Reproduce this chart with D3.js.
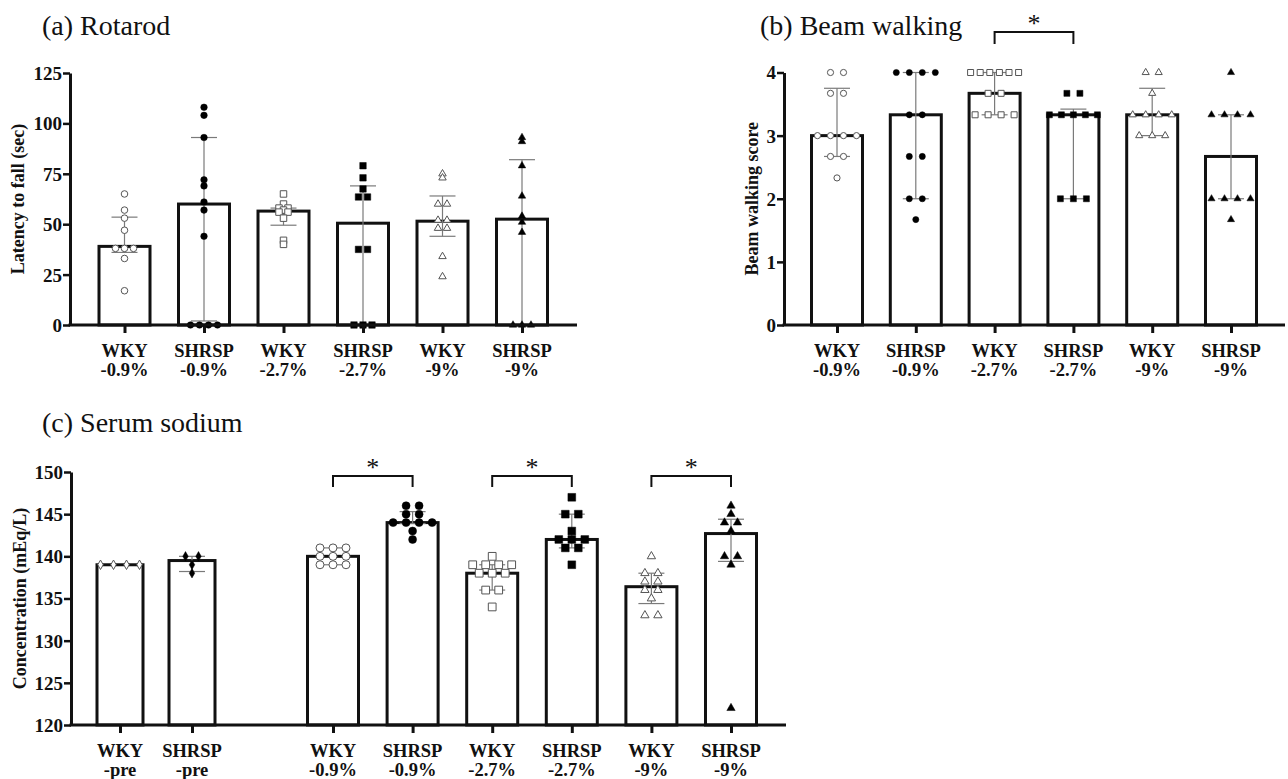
<!DOCTYPE html>
<html><head><meta charset="utf-8">
<script src="https://cdn.jsdelivr.net/npm/d3@7"></script>
<style>
body{margin:0;background:#fff}
svg{display:block}
svg text{font-family:"Liberation Serif","DejaVu Serif","Noto Serif",serif !important;fill:#111}
</style>
</head><body>
<svg id="chart" width="1288" height="779" font-family="Liberation Serif"></svg>
<script>
// ---------------- DATA ----------------
const strains = ["WKY","SHRSP","WKY","SHRSP","WKY","SHRSP"];
const doses = ["-0.9%","-0.9%","-2.7%","-2.7%","-9%","-9%"];

// (a) Rotarod – latency to fall (sec)
const rotaMedian = [39, 60, 56.5, 50.5, 51.5, 52.5];
const rotaQ3 = [53.5, 93, 58, 69, 64, 82];
const rotaQ1 = [36, 2, 49.5, 0, 44, 0];
const rotaPoints = [
  [65, 57, 53, 47, 38, 38, 38, 33, 17],
  [108, 104, 93, 72, 69, 61, 57, 44, 0, 0, 0, 0],
  [65, 60, 58, 58, 57, 56, 56, 53, 42, 40],
  [79, 73, 67.5, 63.5, 63.5, 37.5, 37.5, 0, 0, 0],
  [75, 73, 60, 60, 52, 52, 48, 48, 34, 24],
  [93, 91, 79, 64, 54, 51, 46, 0, 0, 0]
];
const rotaTicks = [0, 25, 50, 75, 100, 125];

// (b) Beam walking score
const beamMedian = [3, 3.33, 3.67, 3.33, 3.33, 2.67];
const beamQ3 = [3.75, 4, 4, 3.42, 3.75, 3.33];
const beamQ1 = [2.67, 2, 3.33, 2, 3, 2];
const beamPoints = [
  [4, 4, 3.67, 3.67, 3, 3, 3, 3, 2.67, 2.67, 2.33],
  [4, 4, 4, 4, 3.33, 3.33, 2.67, 2.67, 2, 2, 1.67],
  [4, 4, 4, 4, 4, 4, 3.67, 3.67, 3.33, 3.33, 3.33, 3.33],
  [3.67, 3.67, 3.33, 3.33, 3.33, 3.33, 3.33, 2, 2, 2],
  [4, 4, 3.67, 3.33, 3.33, 3.33, 3.33, 3, 3, 3],
  [4, 3.33, 3.33, 3.33, 3.33, 2, 2, 2, 2, 1.67]
];
const beamTicks = [0, 1, 2, 3, 4];
const beamSig = [[2, 3]];

// (c) Serum sodium (mEq/L)
const preStrains = ["WKY", "SHRSP"];
const preDoses = ["-pre", "-pre"];
const preMedian = [139, 139.5];
const preQ3 = [139, 140];
const preQ1 = [139, 138.2];
const prePoints = [[139, 139, 139, 139], [140, 140, 139, 138]];
const naMedian = [140, 144, 138, 142, 136.4, 142.7];
const naQ3 = [141, 145.3, 139, 145, 138, 144.4];
const naQ1 = [139, 143.9, 136, 141, 134.4, 139.4];
const naPoints = [
  [141, 141, 141, 140, 140, 140, 139, 139, 139],
  [146, 146, 145, 145, 144, 144, 144, 144, 143, 142],
  [140, 139, 139, 139, 139, 138, 138, 138, 136, 136, 134],
  [147, 145, 145, 143, 142, 142, 142, 141, 141, 139],
  [140, 138, 138, 137, 137, 136, 136, 135, 133, 133],
  [146, 145, 144, 144, 143, 140, 140, 139, 122]
];
const naTicks = [120, 125, 130, 135, 140, 145, 150];
const naSig = [[0, 1], [2, 3], [4, 5]];

// ---------------- DRAWING ----------------
const FONT = "Liberation Serif";
const svg = d3.select("#chart");
const catKeys = (s, d) => s.map((v, i) => v + " " + d[i]);

const markerStyles = {
  openCircle: {type: d3.symbolCircle, fill: "#fff", k: "c"},
  filledCircle: {type: d3.symbolCircle, fill: "#000", k: "c"},
  openSquare: {type: d3.symbolSquare, fill: "#fff", k: "s"},
  filledSquare: {type: d3.symbolSquare, fill: "#000", k: "s"},
  openTriangle: {type: d3.symbolTriangle, fill: "#fff", k: "t"},
  filledTriangle: {type: d3.symbolTriangle, fill: "#000", k: "t"},
  openDiamond: {type: d3.symbolDiamond, fill: "#fff", k: "d"},
  filledDiamond: {type: d3.symbolDiamond, fill: "#000", k: "d"}
};
const mainMarkers = ["openCircle","filledCircle","openSquare","filledSquare","openTriangle","filledTriangle"];

function offsets(vals, spMax, spread) {
  const groups = d3.group(vals.map((v, i) => ({v, i})), d => d.v.toFixed(3));
  const out = new Array(vals.length).fill(0);
  for (const [, arr] of groups) {
    const n = arr.length;
    const sp = n > 1 ? Math.min(spMax, spread / (n - 1)) : 0;
    arr.forEach((d, k) => { out[d.i] = (k - (n - 1) / 2) * sp; });
  }
  return out;
}

function drawBars(g, x, y, cats, med, q1, q3, pts, markers, o) {
  const base = y.domain()[0];
  g.append("g").selectAll("rect").data(cats).join("rect")
    .attr("x", d => x(d) - o.bw / 2)
    .attr("y", (d, i) => y(med[i]))
    .attr("width", o.bw)
    .attr("height", (d, i) => y(base) - y(med[i]))
    .attr("fill", "#fff").attr("stroke", "#111").attr("stroke-width", 3);

  const eb = g.append("g").attr("stroke", "#7a7a7a").attr("stroke-width", 1.2);
  cats.forEach((c, i) => {
    if (q1[i] === q3[i]) return;
    const cx = x(c);
    eb.append("line").attr("x1", cx).attr("x2", cx).attr("y1", y(q1[i])).attr("y2", y(q3[i]));
    [q1[i], q3[i]].forEach(v => {
      eb.append("line").attr("x1", cx - o.cap).attr("x2", cx + o.cap).attr("y1", y(v)).attr("y2", y(v));
    });
  });

  cats.forEach((c, i) => {
    const st = markerStyles[markers[i]];
    const off = offsets(pts[i], o.spMax, o.spread);
    const sym = d3.symbol().type(st.type).size(o.msize[st.k]);
    g.append("g").selectAll("path").data(pts[i]).join("path")
      .attr("d", sym)
      .attr("transform", (v, k) => `translate(${x(c) + off[k]},${y(v)})`)
      .attr("fill", st.fill)
      .attr("stroke", st.fill === "#fff" ? "#555" : "#000")
      .attr("stroke-width", st.fill === "#fff" ? 1 : 0.5);
  });

  // x ticks + labels
  const xa = g.append("g").attr("transform", `translate(0,${y(base)})`)
    .call(d3.axisBottom(x).tickSize(8).tickFormat(""));
  xa.select(".domain").remove();
  xa.selectAll(".tick line").attr("stroke", "#111").attr("stroke-width", 3);
  cats.forEach((c, i) => {
    [o.labA[i], o.labB[i]].forEach((s, j) => {
      g.append("text").attr("x", x(c)).attr("y", y(base) + o.lab1 + j * 18.5)
        .attr("text-anchor", "middle").attr("font-family", FONT)
        .attr("font-weight", "bold").attr("font-size", 18.5).text(s);
    });
  });
}

function drawYAxis(g, y, ticks, ax, axEnd, title, titleX) {
  const ya = g.append("g").attr("transform", `translate(${ax},0)`)
    .call(d3.axisLeft(y).tickValues(ticks).tickFormat(d3.format("d"))
      .tickSize(7).tickSizeOuter(0).tickPadding(1));
  ya.attr("font-family", FONT);
  ya.select(".domain").attr("stroke", "#111").attr("stroke-width", 3);
  ya.selectAll(".tick line").attr("stroke", "#111").attr("stroke-width", 2.5);
  ya.selectAll(".tick text").attr("font-family", FONT).attr("font-weight", "bold")
    .attr("font-size", 19).attr("fill", "#111").attr("dy", "0.34em");
  const y0 = y.range()[0];
  g.append("line").attr("x1", ax - 1.5).attr("x2", axEnd).attr("y1", y0).attr("y2", y0)
    .attr("stroke", "#111").attr("stroke-width", 3);
  const cy = (y.range()[0] + y.range()[1]) / 2;
  g.append("text").attr("transform", `translate(${titleX},${cy}) rotate(-90)`)
    .attr("text-anchor", "middle").attr("dy", "0.35em").attr("font-family", FONT)
    .attr("font-weight", "bold").attr("font-size", 18).text(title);
}

function drawSig(g, x, pairs, yLine, drop) {
  pairs.forEach(([a, b]) => {
    const x1 = x(x.domain()[a]), x2 = x(x.domain()[b]);
    g.append("path").attr("d", `M${x1},${yLine + drop}V${yLine}H${x2}V${yLine + drop}`)
      .attr("fill", "none").attr("stroke", "#111").attr("stroke-width", 2);
    g.append("text").attr("x", (x1 + x2) / 2).attr("y", yLine).attr("text-anchor", "middle")
      .attr("font-family", FONT).attr("font-size", 26).text("*");
  });
}

function title(g, x, y, s) {
  g.append("text").attr("x", x).attr("y", y).attr("font-family", FONT)
    .attr("font-size", 28).text(s);
}

// ---- Panel (a)
{
  const g = svg.append("g");
  const cats = catKeys(strains, doses);
  const x = d3.scalePoint().domain(cats).range([124.5, 522]);
  const y = d3.scaleLinear().domain([0, 125]).range([325, 73]);
  drawBars(g, x, y, cats, rotaMedian, rotaQ1, rotaQ3, rotaPoints, mainMarkers,
    {bw: 51, cap: 13, spMax: 9, spread: 30, msize: {c: 34, s: 42, t: 24, d: 30}, lab1: 32, labA: strains, labB: doses});
  drawYAxis(g, y, rotaTicks, 70, 577, "Latency to fall (sec)", 18);
  title(g, 42, 35, "(a) Rotarod");
}

// ---- Panel (b)
{
  const g = svg.append("g");
  const cats = catKeys(strains, doses);
  const x = d3.scalePoint().domain(cats).range([837, 1231]);
  const y = d3.scaleLinear().domain([0, 4]).range([325, 72.5]);
  drawBars(g, x, y, cats, beamMedian, beamQ1, beamQ3, beamPoints, mainMarkers,
    {bw: 51, cap: 13, spMax: 13, spread: 48, msize: {c: 30, s: 36, t: 22, d: 30}, lab1: 32, labA: strains, labB: doses});
  drawYAxis(g, y, beamTicks, 784, 1285, "Beam walking score", 752);
  drawSig(g, x, beamSig, 32, 12);
  title(g, 760, 35, "(b) Beam walking");
}

// ---- Panel (c)
{
  const g = svg.append("g");
  const y = d3.scaleLinear().domain([120, 150]).range([725, 472]);
  const preCats = catKeys(preStrains, preDoses);
  const xp = d3.scalePoint().domain(preCats).range([120, 192]);
  drawBars(g, xp, y, preCats, preMedian, preQ1, preQ3, prePoints, ["openDiamond", "filledDiamond"],
    {bw: 46, cap: 13, spMax: 13, spread: 40, msize: {c: 50, s: 60, t: 30, d: 26}, lab1: 32, labA: preStrains, labB: preDoses});
  const cats = catKeys(strains, doses);
  const x = d3.scalePoint().domain(cats).range([333, 731]);
  drawBars(g, x, y, cats, naMedian, naQ1, naQ3, naPoints, mainMarkers,
    {bw: 51, cap: 13, spMax: 13, spread: 40, msize: {c: 50, s: 60, t: 30, d: 30}, lab1: 32, labA: strains, labB: doses});
  drawYAxis(g, y, naTicks, 71, 786, "Concentration (mEq/L)", 20);
  drawSig(g, x, naSig, 476, 11);
  title(g, 42, 432, "(c) Serum sodium");
}
</script>
</body></html>
